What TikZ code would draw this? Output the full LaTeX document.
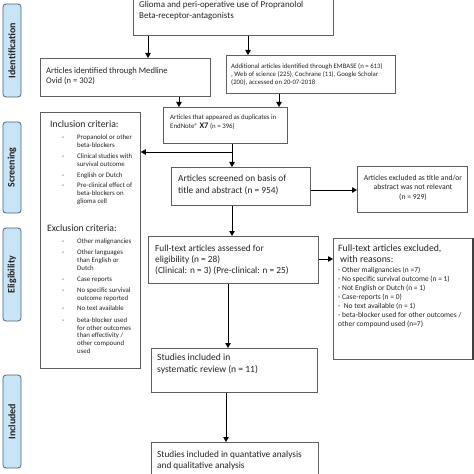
\documentclass[tikz,border=0pt]{standalone}
\usepackage{fontspec}
\setmainfont{Carlito}
\usetikzlibrary{arrows.meta}
\definecolor{boxgray}{RGB}{95,95,95}
\definecolor{sidefill}{RGB}{200,228,247}
\definecolor{sideborder}{RGB}{80,100,118}
\definecolor{txtcol}{RGB}{35,35,35}
\begin{document}
\begin{tikzpicture}[x=1bp,y=-1bp,
 box/.style={draw=boxgray, line width=0.8bp, inner sep=0, anchor=north west},
 txt/.style={inner sep=0, anchor=north west, align=left, text=txtcol},
 arr/.style={draw=black, line width=0.8bp, -{Triangle[length=5bp,width=5.5bp]}},
 side/.style={draw=sideborder, fill=sidefill, rounded corners=3bp, line width=0.8bp, inner sep=0,
   minimum height=18bp, rotate=90, font=\fontsize{10}{11}\selectfont\bfseries, text=txtcol}
]
\useasboundingbox (0,0) rectangle (474,474);

% side labels
\node[side, minimum width=93bp] (sid1) at (12,50.5) {Identification};
\node[side, minimum width=91bp] (sid2) at (12,167.5) {Screening};
\node[side, minimum width=93bp] (sid3) at (12,274.5) {Eligibility};
\node[side, minimum width=93bp] (sid4) at (12,421.5) {Included};

% boxes
\node[box, minimum width=200bp, minimum height=42bp] (top) at (133,-7) {};
\node[box, minimum width=170bp, minimum height=38bp] (medline) at (40,58) {};
\node[box, minimum width=169bp, minimum height=38bp] (embase) at (226,55) {};
\node[box, minimum width=124bp, minimum height=36bp] (dup) at (163,107) {};
\node[box, minimum width=100bp, minimum height=256bp] (crit) at (40,112) {};
\node[box, minimum width=139bp, minimum height=38bp] (screen) at (171,167) {};
\node[box, minimum width=110bp, minimum height=46bp] (excl1) at (357,166) {};
\node[box, minimum width=170bp, minimum height=47bp] (full) at (148,236) {};
\node[box, minimum width=139bp, minimum height=121bp] (excl2) at (333,238) {};
\draw[line width=2bp, draw=black!75] (excl2.north east) -- (excl2.south east);
\node[box, minimum width=166bp, minimum height=44bp] (incl) at (151,348) {};
\node[box, minimum width=167bp, minimum height=45bp] (final) at (151,442) {};

% texts
\node[txt, font=\fontsize{9}{11}\selectfont] (toptxt) at (139,1) {Glioma and peri-operative use of Propranolol\\Beta-receptor-antagonists};
\node[txt, font=\fontsize{8.6}{10}\selectfont] (medtxt) at (46,67) {Articles identified through Medline\\Ovid (n = 302)};
\node[txt, font=\fontsize{6.8}{8}\selectfont] (embtxt) at (231,63) {Additional articles identified through EMBASE (n = 613)\\, Web of science (225), Cochrane (11), Google Scholar\\(200), accessed on 20-07-2018};
\node[txt, font=\fontsize{6.9}{9}\selectfont] (duptxt) at (170,115) {Articles that appeared as duplicates in\\EndNote® {\fontsize{8.5}{9}\selectfont\bfseries X7} (n = 396)};
\node[txt, font=\fontsize{9.4}{12}\selectfont] (scrtxt) at (178,174.8) {Articles screened on basis of\\title and abstract (n = 954)};
\node[txt, anchor=north, align=center, font=\fontsize{7.7}{10}\selectfont] (ex1txt) at (413,174.5) {Articles excluded as title and/or\\abstract was not relevant\\(n = 929)};
\node[txt, font=\fontsize{9.35}{11}\selectfont] (fulltxt) at (155,244.8) {Full-text articles assessed for\\eligibility (n = 28)\\(Clinical: n = 3) (Pre-clinical: n = 25)};
\node[txt, font=\fontsize{9.8}{10.5}\selectfont] (ex2head) at (338,244.6) {Full-text articles excluded,\\\hspace{2bp}with reasons:};
\node[txt, font=\fontsize{7.5}{9}\selectfont] (ex2list) at (338,266.6) {- Other malignancies (n =7)\\- No specific survival outcome (n = 1)\\- Not English or Dutch (n = 1)\\- Case-reports (n = 0)\\-\ \ No text available (n = 1)\\- beta-blocker used for other outcomes /\\other compound used (n=7)};
\node[txt, font=\fontsize{9.6}{12.5}\selectfont] (incltxt) at (157,353.7) {Studies included in\\systematic review (n = 11)};
\node[txt, font=\fontsize{9.3}{11}\selectfont] (finaltxt) at (157,450.8) {Studies included in quantative analysis\\and qualitative analysis};

% criteria
\node[txt, font=\fontsize{9.8}{11}\selectfont] (inclhead) at (50,120.6) {Inclusion criteria:};
\node[txt, font=\fontsize{6.9}{8}\selectfont] (incllist) at (62,133.5) {\begin{tabular}{@{}p{15bp}@{}l@{}}
-&Propanolol or other\\
&beta-blockers\\[3bp]
-&Clinical studies with\\
&survival outcome\\[3bp]
-&English or Dutch\\[2bp]
-&Pre-clinical effect of\\
&beta-blockers on\\
&glioma cell
\end{tabular}};
\node[txt, font=\fontsize{9.8}{11}\selectfont] (exclhead) at (47,224.6) {Exclusion criteria:};
\node[txt, font=\fontsize{6.9}{8}\selectfont] (excllist) at (62,237.5) {\begin{tabular}{@{}p{15bp}@{}l@{}}
-&Other malignancies\\[3bp]
-&Other languages\\
&than English or\\
&Dutch\\[3bp]
-&Case reports\\[3bp]
-&No specific survival\\
&outcome reported\\[2bp]
-&No text available\\[4bp]
-&beta-blocker used\\
&for other outcomes\\
&than effectivity /\\
&other compound\\
&used
\end{tabular}};

% connectors
\coordinate (br) at (232,152);
\draw[arr] (148,0 |- top.south) -- (148,0 |- medline.north);
\draw[arr] (248,0 |- top.south) -- (248,0 |- embase.north);
\draw[arr] (179,0 |- medline.south) -- (179,0 |- dup.north);
\draw[arr] (279,0 |- embase.south) -- (279,0 |- dup.north);
\draw[arr] (232,0 |- dup.south) -- (232,0 |- screen.north);
\draw[arr] (br) -- (crit.east |- br);
\draw[arr] (screen.east |- 0,190) -- (excl1.west |- 0,190);
\draw[arr] (232,0 |- screen.south) -- (232,0 |- full.north);
\draw[arr] (full.east |- 0,259) -- (excl2.west |- 0,259);
\draw[arr] (228,0 |- full.south) -- (228,0 |- incl.north);
\draw[arr] (226,0 |- incl.south) -- (226,0 |- final.north);
\end{tikzpicture}
\end{document}
